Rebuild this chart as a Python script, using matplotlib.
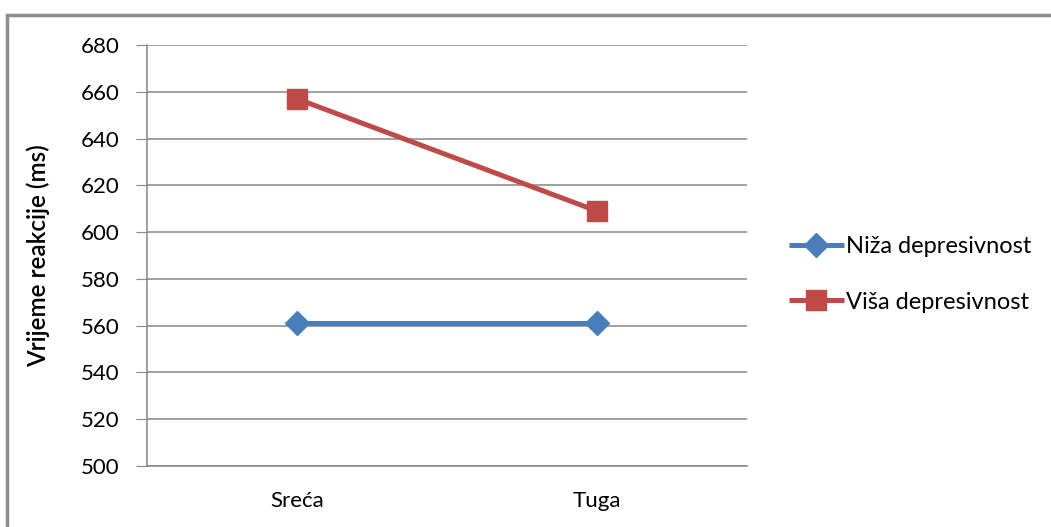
import matplotlib.pyplot as plt
from matplotlib.patches import Rectangle

categories = ['Sreća', 'Tuga']
niza = [561, 561]
visa = [657, 609]
yticks = [500, 520, 540, 560, 580, 600, 620, 640, 660, 680]

plt.rcParams['font.family'] = ['Lato', 'DejaVu Sans']

fig = plt.figure(figsize=(10.51, 5.27), dpi=100)
ax = fig.add_axes([147/1051, 61/527, 600/1051, 421/527])

x = range(len(categories))
ax.plot(x, niza, color='#4a7ebb', lw=3.6, marker='D', ms=12,
        label='Niža depresivnost', solid_capstyle='butt')
ax.plot(x, visa, color='#be4b48', lw=3.6, marker='s', ms=14,
        label='Viša depresivnost', solid_capstyle='butt')

ax.set_xlim(-0.5, 1.5)
ax.set_ylim(500, 680)
ax.set_yticks(yticks)
ax.set_xticks(list(x))
ax.set_xticklabels(categories)
ax.yaxis.grid(True, color='#868686', lw=1.1)
ax.set_axisbelow(True)
for s in ['top', 'right']:
    ax.spines[s].set_visible(False)
for s in ['left', 'bottom']:
    ax.spines[s].set_color('#868686')
    ax.spines[s].set_linewidth(1.1)
ax.tick_params(axis='y', length=8, color='#868686', labelsize=16, pad=12)
ax.tick_params(axis='x', length=0, labelsize=16, pad=18)
ax.set_ylabel('Vrijeme reakcije (ms)', fontsize=17.5, fontweight='semibold',
              labelpad=22)

ax.legend(loc='center left', bbox_to_anchor=(1.035, 0.455), frameon=False,
          fontsize=17, handlelength=2.3, handletextpad=0.1, labelspacing=1.45)

# outer frame
fig.patches.append(Rectangle((7/1051, -0.2), 1.2, 0.2 + (527-15)/527,
                             transform=fig.transFigure, fill=False,
                             edgecolor='#8c8c8c', lw=2.5))

plt.savefig('out.png', dpi=100)
